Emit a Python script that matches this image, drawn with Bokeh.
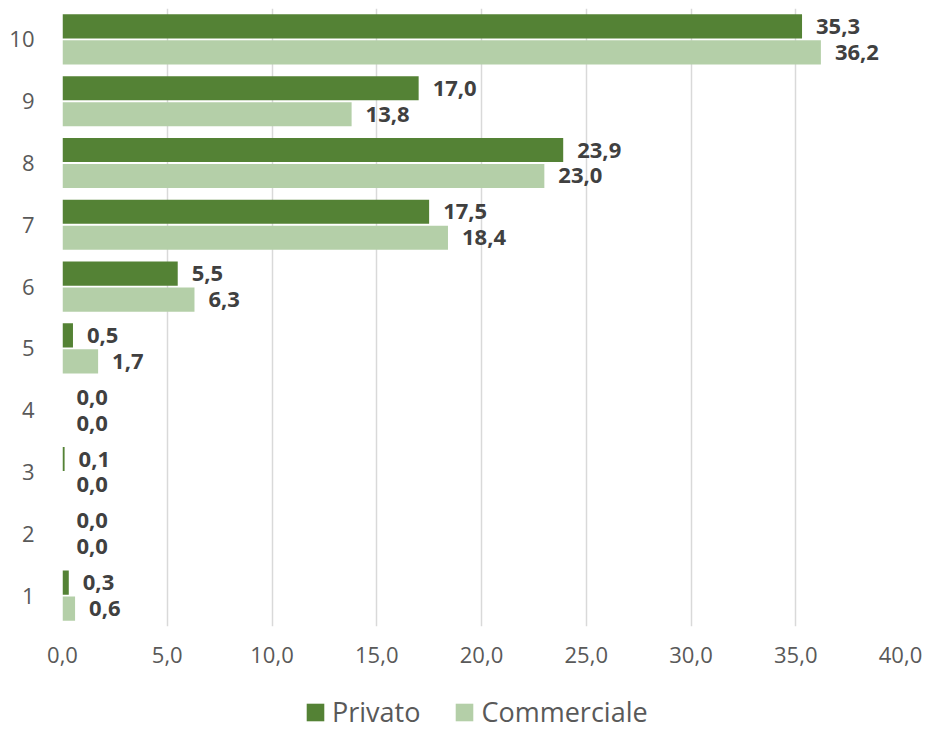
from bokeh.plotting import figure
from bokeh.layouts import column
from bokeh.models import (ColumnDataSource, Range1d, FixedTicker, Legend, LegendItem)
from bokeh.transform import dodge
from bokeh.core.properties import value
from bokeh.embed import file_html
from bokeh.resources import INLINE

# ---- data ----
categories = [1, 2, 3, 4, 5, 6, 7, 8, 9, 10]
privato = [0.3, 0.0, 0.1, 0.0, 0.5, 5.5, 17.5, 23.9, 17.0, 35.3]
commerciale = [0.6, 0.0, 0.0, 0.0, 1.7, 6.3, 18.4, 23.0, 13.8, 36.2]
x_ticks = [0, 5, 10, 15, 20, 25, 30, 35, 40]
x_tick_labels = ["0,0", "5,0", "10,0", "15,0", "20,0", "25,0", "30,0", "35,0", "40,0"]
series_names = ["Privato", "Commerciale"]

DARK = "#548235"
LIGHT = "#B4CFA8"
FONT = "Open Sans"

def fmt(v):
    return f"{v:.1f}".replace(".", ",")

src = ColumnDataSource(dict(
    cat=categories,
    privato=privato,
    commerciale=commerciale,
    lab_p=[fmt(v) for v in privato],
    lab_c=[fmt(v) for v in commerciale],
))

p = figure(width=926, height=670, output_backend="svg", toolbar_location=None,
           x_range=Range1d(0, 40), y_range=Range1d(0.5, 10.5),
           min_border_left=62, min_border_right=26, min_border_top=8,
           min_border_bottom=44)
p.outline_line_color = None
p.background_fill_color = "white"

r_p = p.hbar(y=dodge("cat", 0.21, range=p.y_range), right="privato", left=0,
             height=0.39, source=src, fill_color=DARK, line_color=None)
r_c = p.hbar(y=dodge("cat", -0.21, range=p.y_range), right="commerciale", left=0,
             height=0.39, source=src, fill_color=LIGHT, line_color=None)

for col, lab, off in (("privato", "lab_p", 0.21), ("commerciale", "lab_c", -0.21)):
    p.text(x=col, y=dodge("cat", off, range=p.y_range), text=lab, source=src,
           x_offset=14, text_align="left", text_baseline="middle",
           text_font=value(FONT), text_font_style="bold",
           text_font_size="22px", text_color="#404040")

# grid
p.ygrid.visible = False
p.xgrid.grid_line_color = "#D9D9D9"
p.xgrid.grid_line_width = 1.5
p.xgrid.ticker = FixedTicker(ticks=x_ticks)

# x axis
xa = p.xaxis[0]
xa.ticker = FixedTicker(ticks=x_ticks)
xa.major_label_overrides = {t: l for t, l in zip(x_ticks, x_tick_labels)}
xa.axis_line_color = None
xa.major_tick_line_color = None
xa.minor_tick_line_color = None
xa.major_label_standoff = 14
xa.major_label_text_font = FONT
xa.major_label_text_font_size = "22px"
xa.major_label_text_color = "#595959"

# y axis
ya = p.yaxis[0]
ya.ticker = FixedTicker(ticks=categories)
ya.axis_line_color = None
ya.major_tick_line_color = None
ya.minor_tick_line_color = None
ya.major_label_standoff = 22
ya.major_label_text_font = FONT
ya.major_label_text_font_size = "22px"
ya.major_label_text_color = "#595959"

# ---- legend strip (separate figure below the chart) ----
lg = figure(width=926, height=60, output_backend="svg", toolbar_location=None,
            x_range=Range1d(0, 40), y_range=Range1d(0.5, 10.5),
            x_axis_location=None, y_axis_location=None,
            min_border_left=0, min_border_right=0, min_border_top=0,
            min_border_bottom=0)
lg.outline_line_color = None
lg.xgrid.visible = False
lg.ygrid.visible = False
# hidden copies of the series, only used to supply the legend swatches
lp = lg.hbar(y="cat", right="privato", height=0.39, source=src,
             fill_color=DARK, line_color=None, visible=False)
lc = lg.hbar(y="cat", right="commerciale", height=0.39, source=src,
             fill_color=LIGHT, line_color=None, visible=False)
legend = Legend(items=[LegendItem(label=series_names[0], renderers=[lp]),
                       LegendItem(label=series_names[1], renderers=[lc])],
                orientation="horizontal", location=(242, 0),
                label_text_font=FONT, label_text_font_size="27px",
                label_text_color="#595959", glyph_width=22, glyph_height=22,
                label_standoff=6, spacing=33, padding=0, margin=0,
                border_line_color=None, background_fill_alpha=0)
lg.add_layout(legend, "center")

layout = column(p, lg, spacing=0)
open("out.html", "w").write(file_html(layout, INLINE))
